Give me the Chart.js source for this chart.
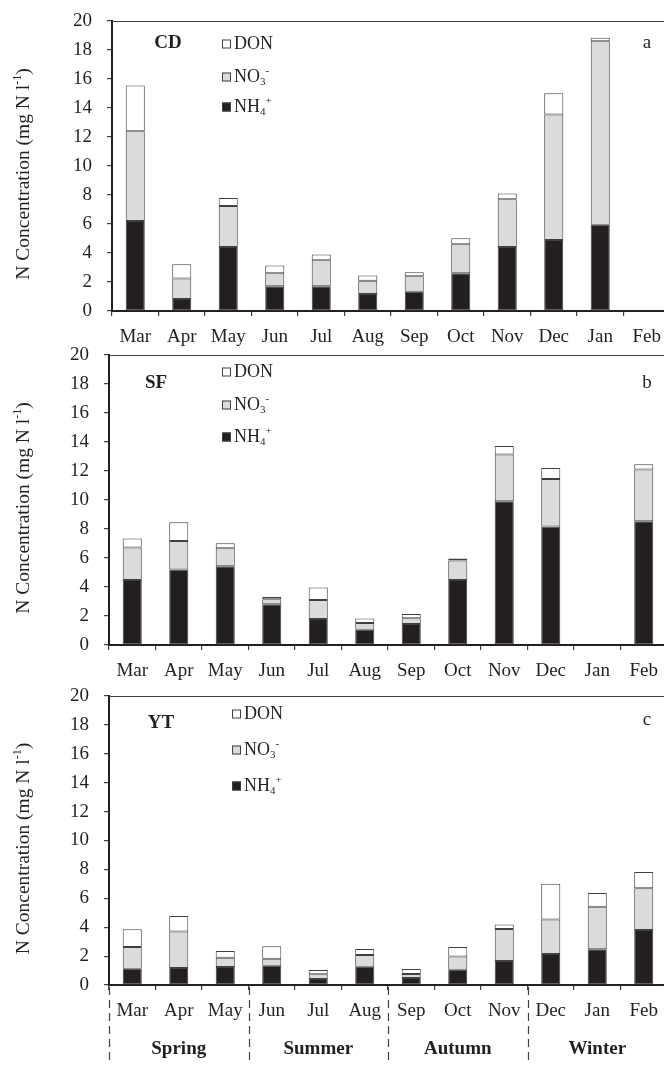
<!DOCTYPE html>
<html>
<head>
<meta charset="utf-8">
<script src="https://cdn.jsdelivr.net/npm/chart.js@4.4.1/dist/chart.umd.min.js"></script>
<style>
  html, body { margin: 0; padding: 0; background: #fff; overflow: hidden; width: 664px; height: 1065px; position: relative; }
  .panel { position: absolute; left: 0; }
</style>
</head>
<body>
<div class="panel" style="top:0;width:670px;height:354px;z-index:1"><canvas id="cA"></canvas></div>
<div class="panel" style="top:340px;width:667px;height:352px;z-index:2"><canvas id="cB"></canvas></div>
<div class="panel" style="top:680px;width:667px;height:385px;z-index:3"><canvas id="cC"></canvas></div>
<script>
// ---- Data ----
const months = ['Mar','Apr','May','Jun','Jul','Aug','Sep','Oct','Nov','Dec','Jan','Feb'];
const seasons = ['Spring','Summer','Autumn','Winter'];
const yTicks = [0,2,4,6,8,10,12,14,16,18,20];
const seriesNames = ['DON','NO3-','NH4+'];

const cdNH4 = [6.2, 0.83, 4.41, 1.7, 1.7, 1.17, 1.33, 2.6, 4.41, 4.9, 5.95, null];
const cdNO3 = [6.2, 1.42, 2.83, 0.9, 1.8, 0.92, 1.06, 2.0, 3.29, 8.66, 12.65, null];
const cdDON = [3.15, 0.97, 0.56, 0.53, 0.4, 0.35, 0.28, 0.41, 0.41, 1.45, 0.25, null];

const sfNH4 = [4.49, 5.2, 5.43, 2.81, 1.8, 1.06, 1.45, 4.49, 9.92, 8.17, null, 8.54];
const sfNO3 = [2.23, 1.98, 1.24, 0.34, 1.31, 0.46, 0.39, 1.33, 3.22, 3.27, null, 3.56];
const sfDON = [0.62, 1.29, 0.35, 0.16, 0.85, 0.3, 0.3, 0.14, 0.58, 0.76, null, 0.37];

const ytNH4 = [1.13, 1.18, 1.25, 1.34, 0.42, 1.27, 0.48, 1.06, 1.66, 2.15, 2.47, 3.81];
const ytNO3 = [1.5, 2.53, 0.64, 0.48, 0.32, 0.81, 0.28, 0.92, 2.22, 2.39, 2.95, 2.88];
const ytDON = [1.22, 1.07, 0.46, 0.86, 0.3, 0.41, 0.35, 0.65, 0.3, 2.47, 0.95, 1.13];

// ---- Styling ----
const FONT = '"Liberation Serif", "Times New Roman", serif';
const INK = '#231f20';
const EDGE = '#404040';
const COL_NH4 = '#231f20';
const COL_NO3 = '#dadbdc';
const COL_DON = '#ffffff';
const FS = 19;

function drawRich(ctx, x, y, parts, size, weight) {
  let cx = x;
  const w = weight ? weight + ' ' : '';
  for (const p of parts) {
    if (p.mode === 'n') {
      ctx.font = w + size + 'px ' + FONT;
      ctx.fillText(p.t, cx, y);
      cx += ctx.measureText(p.t).width;
    } else {
      const s = Math.round(size * 0.62);
      ctx.font = w + s + 'px ' + FONT;
      const dy = p.mode === 'sub' ? size * 0.28 : -size * 0.33;
      ctx.fillText(p.t, cx, y + dy);
      cx += ctx.measureText(p.t).width;
    }
  }
  return cx;
}

function legendParts(name) {
  if (name === 'NO3-') return [{t:'NO',mode:'n'},{t:'3',mode:'sub'},{t:'-',mode:'sup'}];
  if (name === 'NH4+') return [{t:'NH',mode:'n'},{t:'4',mode:'sub'},{t:'+',mode:'sup'}];
  return [{t:name,mode:'n'}];
}

const decorPlugin = {
  id: 'decor',
  afterDraw(chart, args, o) {
    const ctx = chart.ctx;
    const ca = chart.chartArea;
    const xs = chart.scales.x;
    ctx.save();
    // top frame line
    ctx.strokeStyle = EDGE;
    ctx.lineWidth = 1.2;
    ctx.beginPath();
    ctx.moveTo(ca.left, ca.top + 0.5);
    ctx.lineTo(chart.width, ca.top + 0.5);
    ctx.stroke();

    // y-axis title with superscript
    ctx.fillStyle = INK;
    ctx.textBaseline = 'middle';
    ctx.textAlign = 'left';
    const size = 19.5;
    const parts = [{t:'N Concentration (mg N l',mode:'n'},{t:'-1',mode:'sup'},{t:')',mode:'n'}];
    let w = 0;
    for (const p of parts) {
      ctx.font = (p.mode === 'n' ? size : Math.round(size*0.62)) + 'px ' + FONT;
      w += ctx.measureText(p.t).width;
    }
    ctx.save();
    ctx.translate(o.titleX, (ca.top + ca.bottom) / 2 + 8);
    ctx.rotate(-Math.PI / 2);
    drawRich(ctx, -w / 2, 0, parts, size);
    ctx.restore();

    // panel name
    ctx.font = 'bold ' + FS + 'px ' + FONT;
    ctx.textAlign = 'center';
    ctx.fillText(o.name, o.nameX, o.nameY);
    // panel letter
    ctx.font = FS + 'px ' + FONT;
    ctx.fillText(o.letter, o.letterX, o.letterY);

    // legend
    const fills = {'DON': COL_DON, 'NO3-': COL_NO3, 'NH4+': COL_NH4};
    ctx.textAlign = 'left';
    seriesNames.forEach((n, i) => {
      const y = o.legY[i];
      ctx.fillStyle = fills[n];
      ctx.fillRect(o.legX, y - 4.5, 9, 9);
      ctx.strokeStyle = EDGE;
      ctx.lineWidth = 1;
      ctx.strokeRect(o.legX + 0.5, y - 4, 8, 8);
      ctx.fillStyle = INK;
      drawRich(ctx, o.legX + 12, y, legendParts(n), 18);
    });

    // seasons
    if (o.seasons) {
      const step = xs.getPixelForValue(1) - xs.getPixelForValue(0);
      ctx.strokeStyle = EDGE;
      ctx.lineWidth = 1.2;
      ctx.setLineDash([8, 5]);
      for (let k = 0; k <= 4; k++) {
        const bx = Math.round(xs.getPixelForValue(k * 3) - step / 2) + 0.5;
        ctx.beginPath();
        ctx.moveTo(bx, ca.bottom + 2);
        ctx.lineTo(bx, chart.height);
        ctx.stroke();
      }
      ctx.setLineDash([]);
      ctx.fillStyle = INK;
      ctx.font = 'bold ' + FS + 'px ' + FONT;
      ctx.textAlign = 'center';
      seasons.forEach((s, k) => {
        const cx = xs.getPixelForValue(k * 3 + 1);
        ctx.fillText(s, cx, o.seasonY);
      });
    }
    ctx.restore();
  }
};

function makeChart(id, nh4, no3, don, cfg) {
  const ds = (label, data, color) => ({
    label, data, backgroundColor: color, borderColor: EDGE, borderWidth: 1,
    borderSkipped: false, barPercentage: 0.41, categoryPercentage: 1.0
  });
  return new Chart(document.getElementById(id), {
    type: 'bar',
    data: {
      labels: months,
      datasets: [
        ds('NH4+', nh4, COL_NH4),
        ds('NO3-', no3, COL_NO3),
        ds('DON', don, COL_DON)
      ]
    },
    options: {
      responsive: true,
      maintainAspectRatio: false,
      animation: false,
      devicePixelRatio: 1,
      layout: { padding: { top: cfg.top, left: 0, right: 0, bottom: 0 } },
      plugins: {
        legend: { display: false },
        tooltip: { enabled: false },
        decor: cfg.decor
      },
      scales: {
        x: {
          stacked: true,
          grid: { display: true, drawOnChartArea: false, drawTicks: true, tickLength: 5, color: EDGE, lineWidth: 1.2, offset: true },
          border: { display: true, color: INK, width: 2 },
          ticks: { color: INK, font: { family: FONT, size: FS }, padding: cfg.xPad, maxRotation: 0, autoSkip: false },
          afterFit: (s) => { s.height = cfg.xH; s.paddingLeft = 0; s.paddingRight = 0; }
        },
        y: {
          stacked: true,
          min: 0, max: 20,
          afterBuildTicks: (s) => { s.ticks = yTicks.map(v => ({ value: v })); },
          grid: { display: true, drawOnChartArea: false, drawTicks: true, tickLength: 5, color: EDGE, lineWidth: 1.2 },
          border: { display: true, color: INK, width: 2 },
          ticks: { color: INK, font: { family: FONT, size: FS }, padding: 15 },
          afterFit: (s) => { s.width = cfg.yW; s.paddingTop = 0; s.paddingBottom = 0; }
        }
      }
    },
    plugins: [decorPlugin]
  });
}

makeChart('cA', cdNH4, cdNO3, cdDON, {
  top: 21, xH: 43, yW: 112, xPad: 10,
  decor: { titleX: 24, name: 'CD', nameX: 168, nameY: 43, letter: 'a', letterX: 647, letterY: 43,
           legX: 222, legY: [44, 77, 107], seasons: false }
});
makeChart('cB', sfNH4, sfNO3, sfDON, {
  top: 15, xH: 47, yW: 109, xPad: 10,
  decor: { titleX: 24, name: 'SF', nameX: 156, nameY: 43, letter: 'b', letterX: 647, letterY: 43,
           legX: 222, legY: [32, 65, 97], seasons: false }
});
makeChart('cC', ytNH4, ytNO3, ytDON, {
  top: 16, xH: 80, yW: 109, xPad: 10,
  decor: { titleX: 24, name: 'YT', nameX: 161, nameY: 43, letter: 'c', letterX: 647, letterY: 40,
           legX: 232, legY: [34, 70, 106], seasons: true, seasonY: 369 }
});
</script>
</body>
</html>
